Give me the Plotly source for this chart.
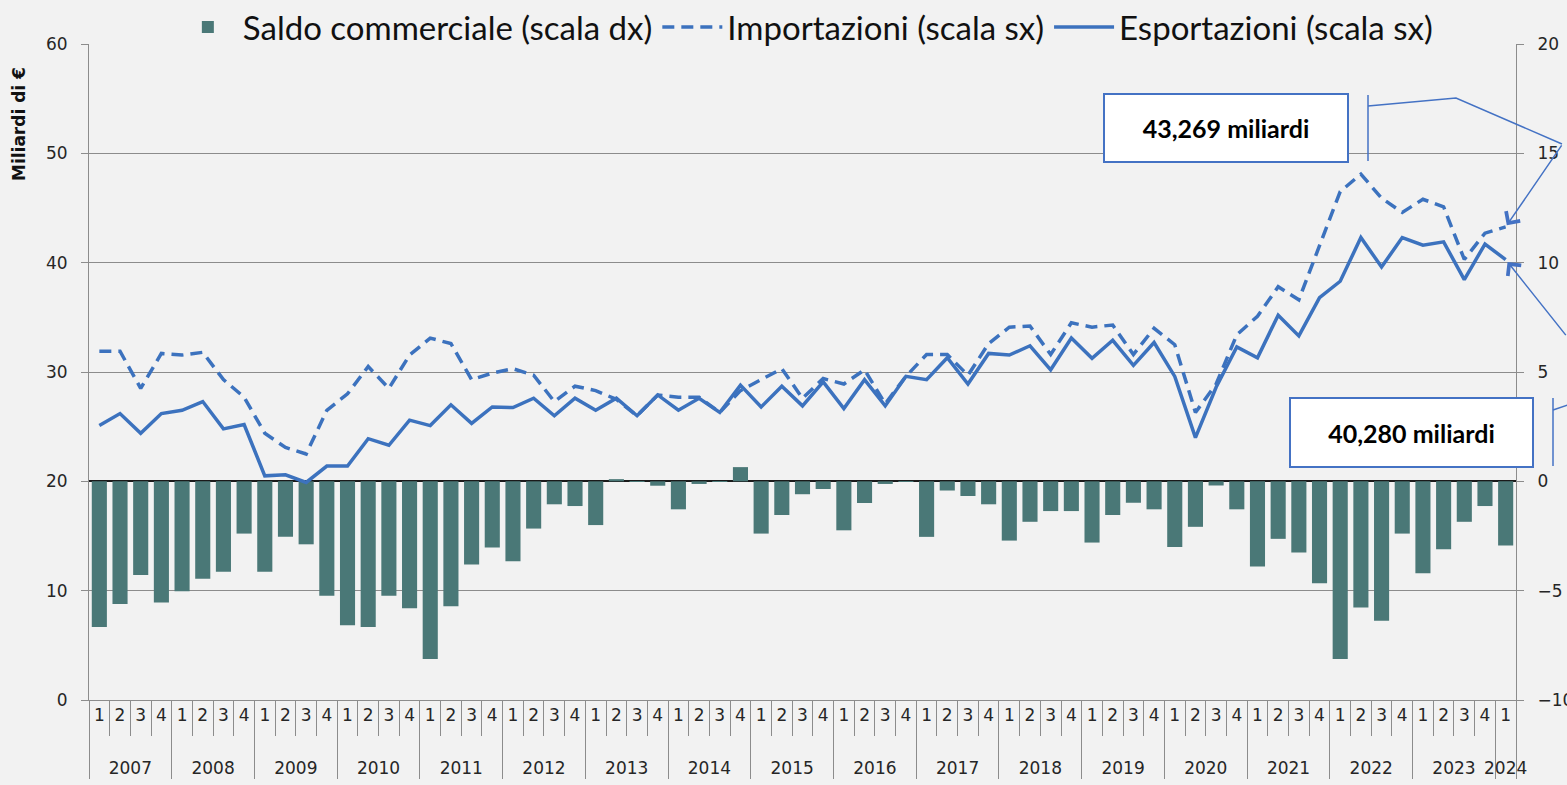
import plotly.graph_objects as go

# ---------------- data ----------------
years = ["2007", "2008", "2009", "2010", "2011", "2012", "2013", "2014", "2015",
         "2016", "2017", "2018", "2019", "2020", "2021", "2022", "2023", "2024"]
quarter_labels = ["1", "2", "3", "4"]

# Esportazioni (miliardi di euro, scala sx)
exports = [
    25.1, 26.2, 24.4, 26.2,    # 2007
    26.5, 27.3, 24.8, 25.2,    # 2008
    20.5, 20.6, 19.9, 21.4,    # 2009
    21.4, 23.9, 23.3, 25.6,    # 2010
    25.1, 27.0, 25.3, 26.8,    # 2011
    26.75, 27.6, 26.0, 27.6,   # 2012
    26.5, 27.6, 26.0, 27.9,    # 2013
    26.5, 27.6, 26.3, 28.8,    # 2014
    26.8, 28.7, 26.9, 29.1,    # 2015
    26.65, 29.3, 26.9, 29.6,   # 2016
    29.3, 31.3, 28.9, 31.7,    # 2017
    31.55, 32.4, 30.2, 33.1,   # 2018
    31.25, 32.9, 30.6, 32.7,   # 2019
    29.6, 24.0, 28.6, 32.3,    # 2020
    31.3, 35.2, 33.3, 36.8,    # 2021
    38.3, 42.3, 39.6, 42.3,    # 2022
    41.6, 41.9, 38.45, 41.7,   # 2023
    40.280,                    # 2024
]

# Importazioni (miliardi di euro, scala sx)
imports = [
    31.9, 31.9, 28.5, 31.7,    # 2007
    31.55, 31.8, 29.3, 27.7,   # 2008
    24.4, 23.1, 22.5, 26.5,    # 2009
    28.0, 30.5, 28.5, 31.55,   # 2010
    33.1, 32.6, 29.3, 29.9,    # 2011
    30.3, 29.7, 27.3, 28.7,    # 2012
    28.3, 27.5, 26.0, 27.9,    # 2013
    27.7, 27.7, 26.3, 28.3,    # 2014
    29.3, 30.3, 27.6, 29.4,    # 2015
    28.9, 30.2, 27.1, 29.6,    # 2016
    31.6, 31.6, 29.7, 32.6,    # 2017
    34.1, 34.2, 31.6, 34.5,    # 2018
    34.1, 34.3, 31.6, 34.0,    # 2019
    32.5, 26.3, 28.9, 33.4,    # 2020
    35.1, 37.8, 36.6, 41.5,    # 2021
    46.5, 48.1, 45.9, 44.6,    # 2022
    45.8, 45.1, 40.3, 42.7,    # 2023
    43.269,                    # 2024
]

# Saldo commerciale (miliardi di euro, scala dx)
saldo = [
    -6.66, -5.61, -4.28, -5.54,   # 2007
    -5.03, -4.45, -4.14, -2.39,   # 2008
    -4.14, -2.54, -2.88, -5.23,   # 2009
    -6.58, -6.66, -5.23, -5.80,   # 2010
    -8.12, -5.71, -3.80, -3.03,   # 2011
    -3.66, -2.16, -1.05, -1.13,   # 2012
    -2.00, 0.10, -0.02, -0.20,    # 2013
    -1.28, -0.12, -0.02, 0.65,    # 2014
    -2.39, -1.54, -0.59, -0.35,   # 2015
    -2.24, -0.99, -0.12, -0.02,   # 2016
    -2.54, -0.42, -0.67, -1.05,   # 2017
    -2.71, -1.85, -1.36, -1.36,   # 2018
    -2.80, -1.54, -0.98, -1.28,   # 2019
    -3.00, -2.08, -0.19, -1.28,   # 2020
    -3.89, -2.63, -3.26, -4.66,   # 2021
    -8.12, -5.77, -6.38, -2.39,   # 2022
    -4.20, -3.11, -1.85, -1.13,   # 2023
    -2.93,                        # 2024
]

# multicategory x (year, quarter); the quarter label carries an extra blank
# line so that the year row sits lower, as in the original
SPACER = "<br><span style='font-size:44px'>\u00a0</span>"
x_year, x_q = [], []
for i in range(len(exports)):
    x_year.append(years[i // 4])
    x_q.append(quarter_labels[i % 4] + SPACER)
x_multi = [x_year, x_q]

# ---------------- styles ----------------
BAR = "#4A7877"
LINE = "#3C72BE"
BOX = "#4472C4"
GRID = "#8C8C8C"
BG = "#F2F2F2"
TICKFONT = dict(family="DejaVu Sans", size=17, color="#262626")

fig = go.Figure()

fig.add_trace(go.Bar(
    x=x_multi, y=saldo, name="Saldo commerciale (scala dx)",
    marker=dict(color=BAR, line=dict(width=0)), yaxis="y",
))
fig.add_trace(go.Scatter(
    x=x_multi, y=imports, name="Importazioni (scala sx)", mode="lines",
    line=dict(color=LINE, width=3.5, dash="12px,7px"), yaxis="y2",
))
fig.add_trace(go.Scatter(
    x=x_multi, y=exports, name="Esportazioni (scala sx)", mode="lines",
    line=dict(color=LINE, width=3.5), yaxis="y2",
))

# plot area in pixels: x 89..1516, y 44..700
PX0, PW, PY0, PH = 89, 1427, 700, 656
def px(xp):
    return (xp - PX0) / PW
def py(yp):
    return (PY0 - yp) / PH

n = len(exports)
fig.update_layout(
    width=1567, height=785,
    margin=dict(l=89, r=51, t=44, b=85, autoexpand=False),
    paper_bgcolor=BG, plot_bgcolor=BG,
    bargap=0.27,
    showlegend=True,
    legend=dict(orientation="h", x=0.502, xanchor="center", y=py(27), yanchor="middle",
                font=dict(family="Lato", size=33, color="#111111"),
                bgcolor="rgba(0,0,0,0)", itemwidth=60, traceorder="normal"),
    xaxis=dict(
        type="multicategory", range=[-0.5, n - 0.5], autorange=False,
        showline=True, linecolor=GRID, linewidth=1, tickangle=0,
        ticks="outside", tickson="boundaries", ticklen=35, tickcolor=GRID,
        showdividers=True, dividercolor=GRID, dividerwidth=1,
        tickfont=TICKFONT, showgrid=False, zeroline=False,
    ),
    yaxis=dict(
        side="right", range=[-10, 20], dtick=5, showgrid=True, gridcolor=GRID,
        gridwidth=1, zeroline=True, zerolinecolor="#1a1a1a", zerolinewidth=2,
        showline=True, linecolor=GRID, ticks="outside", ticklen=7, tickcolor=GRID,
        tickfont=TICKFONT, ticklabelstandoff=10,
    ),
    yaxis2=dict(
        overlaying="y", side="left", range=[0, 60], dtick=10, showgrid=False,
        zeroline=False, showline=True, linecolor=GRID, ticks="outside", ticklen=7,
        tickcolor=GRID, tickfont=TICKFONT, ticklabelstandoff=10,
    ),
)

# Axis title (placed at the top-left like the original)
fig.add_annotation(
    text="<b>Miliardi di €</b>", textangle=-90, xref="paper", yref="paper",
    x=px(19), y=py(124), xanchor="center", yanchor="middle", showarrow=False,
    font=dict(family="DejaVu Sans", size=17, color="#111111"),
)

# Callout boxes
box_font = dict(family="Lato", size=25, color="#000000")
fig.add_annotation(
    text="<b>43,269 miliardi</b>", xref="paper", yref="paper",
    x=px(1226), y=py(127.5), xanchor="center", yanchor="middle",
    showarrow=False, bgcolor="white",
    bordercolor=BOX, borderwidth=2, borderpad=2, width=238, height=62,
    font=box_font,
)
fig.add_annotation(
    text="<b>40,280 miliardi</b>", xref="paper", yref="paper",
    x=px(1411.5), y=py(432), xanchor="center", yanchor="middle",
    showarrow=False, bgcolor="white",
    bordercolor=BOX, borderwidth=2, borderpad=2, width=237, height=63,
    font=box_font,
)

# connectors
conn = dict(color=BOX, width=1.5)
fig.add_shape(type="line", xref="paper", yref="paper",
              x0=px(1368), x1=px(1368), y0=py(95), y1=py(161), line=conn)
fig.add_shape(type="path", xref="paper", yref="paper",
              path=f"M{px(1368)},{py(106)} L{px(1456)},{py(98)} L{px(1562)},{py(144)}",
              line=conn)
fig.add_shape(type="line", xref="paper", yref="paper",
              x0=px(1553), x1=px(1553), y0=py(398), y1=py(466), line=conn)
fig.add_shape(type="line", xref="paper", yref="paper",
              x0=px(1553), x1=px(1568), y0=py(410), y1=py(405), line=conn)

last = n - 1
fig.add_annotation(
    x=last, y=imports[-1], xref="x", yref="y2", text="", showarrow=True,
    ax=57, ay=-83, arrowhead=4, arrowsize=2.2, arrowwidth=1.5, arrowcolor=BOX,
    standoff=2,
)
fig.add_annotation(
    x=last, y=exports[-1], xref="x", yref="y2", text="", showarrow=True,
    ax=62, ay=77, arrowhead=4, arrowsize=2.2, arrowwidth=1.5, arrowcolor=BOX,
    standoff=3,
)

fig.write_html(
    "out.html",
    config={"displayModeBar": False},
    post_script="document.body.style.margin='0';document.body.style.overflow='hidden';",
)
